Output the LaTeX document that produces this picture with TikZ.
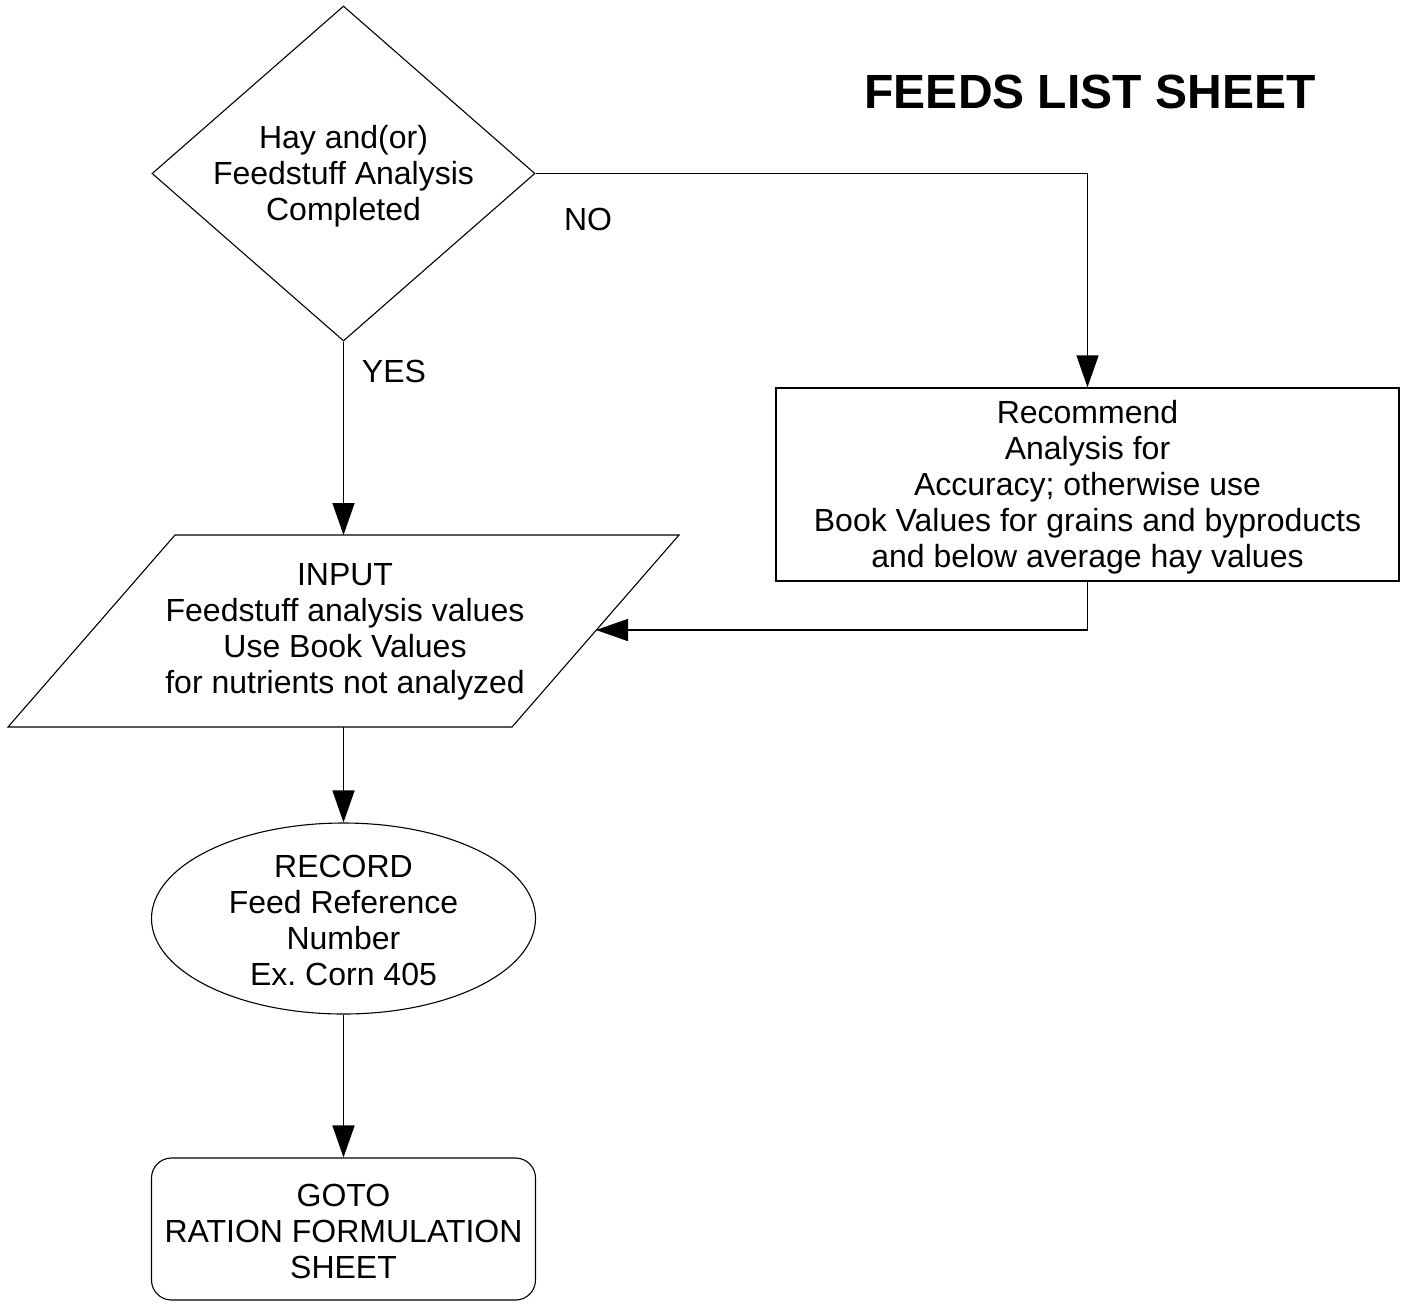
\documentclass[tikz,border=0pt]{standalone}
\usepackage{fontspec}
\setmainfont{Liberation Sans}
\usetikzlibrary{shapes.geometric,arrows.meta}
\frenchspacing
\begin{document}
\begin{tikzpicture}[x=0.5pt,y=-0.5pt,
  shapeline/.style={draw=black,line width=0.55pt},
  conn/.style={draw=black,line width=0.75pt,-{Triangle[length=16pt,width=11pt]}},
  txt/.style={align=center,font=\fontsize{16}{18}\selectfont,inner sep=0pt},
  lbl/.style={font=\fontsize{16}{18}\selectfont,inner sep=0pt}]
\useasboundingbox (0,0) rectangle (1408,1303);
% title
\node[font=\bfseries\fontsize{24}{28}\selectfont,inner sep=0pt] (title) at (1090,92) {FEEDS LIST SHEET};
% decision
\node[diamond,shapeline,minimum width=191.5pt,minimum height=167.5pt,inner sep=0pt] (dia) at (343.5,173.5) {};
\node[txt] (diatxt) at (343.5,176) {Hay and(or)\\Feedstuff Analysis\\Completed};
% recommend box
\node[rectangle,shapeline,line width=0.7pt,minimum width=311.5pt,minimum height=96.5pt,inner sep=0pt] (box) at (1087.5,484.5) {};
\node[txt] (boxtxt) at (1087.5,487) {Recommend\\Analysis for\\Accuracy; otherwise use\\Book Values for grains and byproducts\\and below average hay values};
% input parallelogram
\coordinate (pTL) at (175,535);
\coordinate (pTR) at (679,535);
\coordinate (pBR) at (512,727);
\coordinate (pBL) at (8,727);
\draw[shapeline] (pTL) -- (pTR) -- (pBR) -- (pBL) -- cycle;
\coordinate (inTop) at (343.5,535);
\coordinate (inBot) at (343.5,727);
\coordinate (inRight) at (596,630);
\node[txt] (input) at (345,632) {INPUT\\Feedstuff analysis values\\Use Book Values\\for nutrients not analyzed};
% record ellipse
\node[ellipse,shapeline,minimum width=192pt,minimum height=95.5pt,inner sep=0pt] (rec) at (343.5,918.5) {};
\node[txt] (rectxt) at (343.5,920) {RECORD\\Feed Reference\\Number\\Ex. Corn 405};
% goto rounded box
\node[rectangle,rounded corners=10pt,shapeline,minimum width=192pt,minimum height=71pt,inner sep=0pt] (goto) at (343.5,1229) {};
\node[txt] (gototxt) at (343.5,1231) {GOTO\\RATION FORMULATION\\SHEET};
% labels
\node[lbl] (no) at (588,219) {NO};
\node[lbl] (yes) at (394,371) {YES};
% connectors
\draw[conn] (dia.east) -| (box.north);
\draw[conn] (dia.south) -- (inTop);
\draw[conn] (box.south) |- (inRight);
\draw[conn] (inBot) -- (rec.north);
\draw[conn] (rec.south) -- (goto.north);
\end{tikzpicture}
\end{document}
